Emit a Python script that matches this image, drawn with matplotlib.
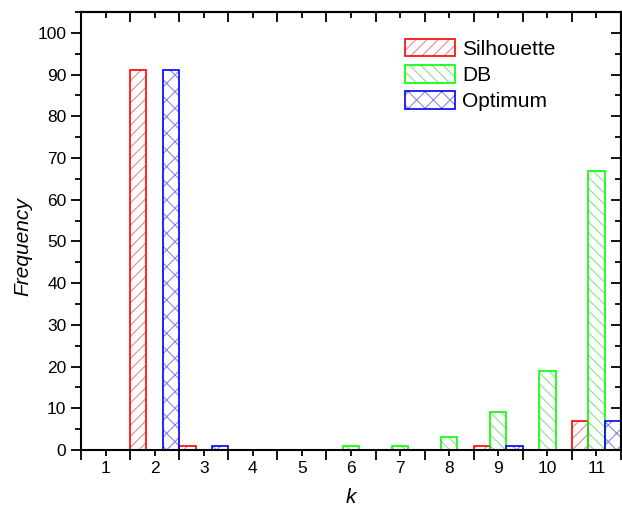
import matplotlib
matplotlib.use("Agg")
import matplotlib.pyplot as plt
from matplotlib.legend_handler import HandlerTuple
from matplotlib.ticker import MultipleLocator, FixedLocator, NullFormatter
import numpy as np

plt.rcParams['font.family'] = ['Liberation Sans', 'DejaVu Sans']
plt.rcParams['hatch.linewidth'] = 0.8

k = [1, 2, 3, 4, 5, 6, 7, 8, 9, 10, 11]
silhouette = [0, 91, 1, 0, 0, 0, 0, 0, 1, 0, 7]
db = [0, 0, 0, 0, 0, 1, 1, 3, 9, 19, 67]
optimum = [0, 91, 1, 0, 0, 0, 0, 0, 1, 0, 7]

series = [
    ("Silhouette", silhouette, "#ff0000", "#e88a8a", "///"),
    ("DB", db, "#00ff00", "#8ee08e", "\\\\\\"),
    ("Optimum", optimum, "#0000ff", "#8a8ae8", "xx"),
]

fig = plt.figure(figsize=(6.22, 5.09), dpi=100)
ax = fig.add_axes([81/622, 59/509, 540/622, 438/509])

x = np.array(k, dtype=float)
w = 1/3
handles = []
for i, (name, vals, col, hcol, hatch) in enumerate(series):
    pos = x + (i - 1) * w
    vals = np.array(vals, dtype=float)
    hb = ax.bar(pos, vals, width=w, color='white', edgecolor=hcol,
                hatch=hatch, linewidth=0, zorder=1)
    ob = ax.bar(pos, vals, width=w, fill=False, edgecolor=col,
                linewidth=1.2, zorder=1.5)
    handles.append((hb[0], ob[0]))

ax.set_xlim(0.5, 11.5)
ax.set_ylim(0, 105)

ax.xaxis.set_major_locator(FixedLocator(np.arange(0.5, 12, 1.0)))
ax.xaxis.set_major_formatter(NullFormatter())
ax.set_xticks(k, [str(v) for v in k], minor=True)
ax.yaxis.set_major_locator(MultipleLocator(10))
ax.yaxis.set_minor_locator(MultipleLocator(5))
ax.set_yticks(np.arange(0, 101, 10))

ax.tick_params(axis='both', which='both', labelsize=12.5, width=1.3)
ax.tick_params(axis='x', which='major', direction='out', length=7, bottom=True, top=False)
ax.tick_params(axis='x', which='minor', direction='out', length=4, bottom=True, top=False, pad=4)
ax.tick_params(axis='y', which='major', direction='out', length=7, left=True, right=False)
ax.tick_params(axis='y', which='minor', direction='out', length=4, left=True, right=False)

# top and right: inward ticks
sec_x = ax.secondary_xaxis('top')
sec_x.xaxis.set_major_locator(FixedLocator(np.arange(0.5, 12, 1.0)))
sec_x.xaxis.set_minor_locator(FixedLocator(k))
sec_x.tick_params(which='major', direction='in', length=7, width=1.3, labeltop=False)
sec_x.tick_params(which='minor', direction='in', length=4, width=1.3, labeltop=False)
sec_x.spines['top'].set_linewidth(1.5)
sec_y = ax.secondary_yaxis('right')
sec_y.yaxis.set_major_locator(MultipleLocator(10))
sec_y.yaxis.set_minor_locator(MultipleLocator(5))
sec_y.tick_params(which='major', direction='in', length=7, width=1.3, labelright=False)
sec_y.tick_params(which='minor', direction='in', length=4, width=1.3, labelright=False)
sec_y.spines['right'].set_linewidth(1.5)

for s in ax.spines.values():
    s.set_linewidth(1.5)

ax.set_xlabel("k", fontsize=15, style='italic')
ax.set_ylabel("Frequency", fontsize=15, style='italic')
ax.xaxis.set_label_coords(0.5, -0.087)
ax.yaxis.set_label_coords(-0.091, 0.465)

ax.legend(handles, [s[0] for s in series], handler_map={tuple: HandlerTuple(ndivide=1)},
          loc='upper left', bbox_to_anchor=(0.6, 0.938), frameon=False,
          fontsize=15, borderpad=0, borderaxespad=0, handlelength=2.4,
          handleheight=0.9, handletextpad=0.34, labelspacing=0.3)

fig.savefig("out.png", dpi=100)
